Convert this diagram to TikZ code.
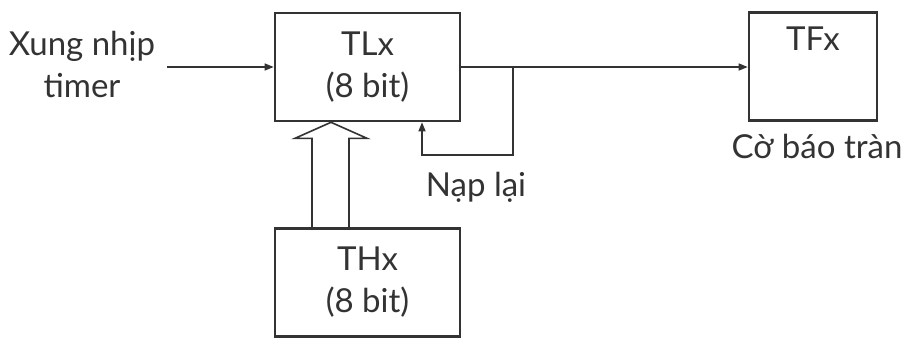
\documentclass[tikz,border=0pt]{standalone}
\usepackage{fontspec}
\setmainfont{Lato}
\usetikzlibrary{calc,arrows.meta}
\begin{document}
\begin{tikzpicture}[x=1pt,y=-1pt,
  box/.style={draw=black!80,line width=2.6pt,rectangle,inner sep=0pt,minimum width=185pt,minimum height=108pt},
  txt/.style={text=black!80,font=\fontsize{33}{42}\selectfont,align=center,inner sep=0pt},
  conn/.style={draw=black!80,line width=1.4pt},
  arr/.style={conn,-{Triangle[length=9pt,width=7pt]}}]
\useasboundingbox (0,0) rectangle (904,340);
\node[box,txt] (TLx) at (367.5,67) {TLx\\(8 bit)};
\node[box,txt] (THx) at (367.5,282.5) {THx\\(8 bit)};
\node[box,minimum width=128pt] (TFx) at (813,66.5) {};
\node[txt,anchor=north] (TFxt) at ($(TFx.north)+(0,15)$) {TFx};
\node[txt,anchor=north] (flag) at ($(TFx.south)+(4,12)$) {Cờ báo tràn};
\node[txt] (clk) at (82,64) {Xung nhịp\\timer};
\node[txt] (nap) at (476,187) {Nạp lại};
\coordinate (in) at (167,67);
\draw[arr] (in) -- (TLx.west |- in);
\draw[arr] (TLx.east |- in) -- (TFx.west |- in);
\coordinate (br) at (513,67);
\coordinate (fb) at (422,155);
\draw[arr] (br) |- (fb) -- (fb |- TLx.south);
% hollow arrow
\draw[conn,line width=1.6pt,line join=miter]
  ($(THx.north)+(-55.5,0)$) -- ($(TLx.south)+(-55.5,16)$) -- ($(TLx.south)+(-72.5,16)$)
  -- ($(TLx.south)+(-36.5,0)$) -- ($(TLx.south)+(-0.5,16)$) -- ($(TLx.south)+(-18.5,16)$)
  -- ($(THx.north)+(-18.5,0)$);
\end{tikzpicture}
\end{document}
